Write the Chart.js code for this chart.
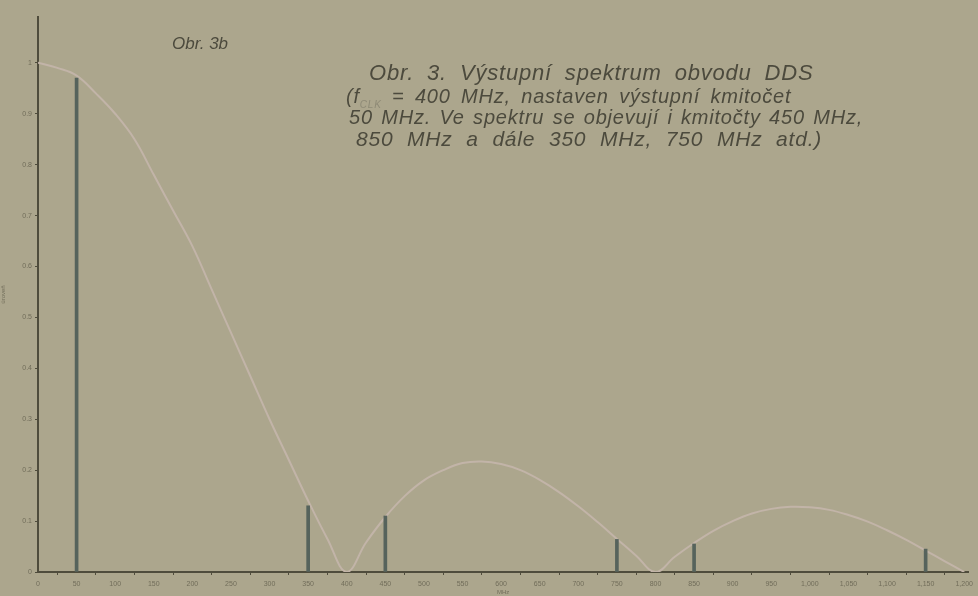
<!DOCTYPE html>
<html>
<head>
<meta charset="utf-8">
<script src="https://cdn.jsdelivr.net/npm/chart.js@4.4.1/dist/chart.umd.min.js"></script>
<style>
  html, body { margin: 0; padding: 0; background: #aca68d; }
  #wrap { position: relative; width: 978px; height: 596px; overflow: hidden; }
  .note { position: absolute; font-family: "Liberation Sans", Arial, sans-serif; font-style: italic;
          font-size: 20px; letter-spacing: 0.8px; color: #4c4a3d; white-space: nowrap; line-height: 1; }
  .note.small { font-size: 17px; letter-spacing: 0; }
  .note sub { font-size: 10px; color: #8e8a76; }
</style>
</head>
<body>
<div id="wrap">
  <canvas id="spektrum" width="978" height="596"></canvas>
  <div class="note small" style="left:172px; top:35px;">Obr. 3b</div>
  <div class="note" style="left:369px; top:62px; font-size:22px; word-spacing:6px;">Obr. 3. Výstupní spektrum obvodu DDS</div>
  <div class="note" style="left:346px; top:86px; word-spacing:4px;">(f<sub>CLK</sub> = 400 MHz, nastaven výstupní kmitočet</div>
  <div class="note" style="left:349px; top:107px; word-spacing:2px;">50 MHz. Ve spektru se objevují i kmitočty 450 MHz,</div>
  <div class="note" style="left:356px; top:128px; font-size:21px; word-spacing:7px;">850 MHz a dále 350 MHz, 750 MHz atd.)</div>
</div>
<script>
// Obálka sin(x)/x (krok 25 MHz)
const envFreq = [0, 25, 50, 75, 100, 125, 150, 175, 200, 225, 250, 275, 300, 325, 350, 375,
  400, 425, 450, 475, 500, 525, 550, 575, 600, 625, 650, 675, 700, 725, 750, 775,
  800, 825, 850, 875, 900, 925, 950, 975, 1000, 1025, 1050, 1075, 1100, 1125, 1150, 1175, 1200];
const envLevel = [1.0, 0.99, 0.975, 0.94, 0.90, 0.85, 0.78, 0.71, 0.64, 0.555, 0.47, 0.385, 0.30, 0.22, 0.14, 0.065,
  0.0, 0.058, 0.108, 0.149, 0.18, 0.20, 0.214, 0.217, 0.212, 0.20, 0.181, 0.157, 0.129, 0.098, 0.065, 0.032,
  0.0, 0.03, 0.057, 0.081, 0.10, 0.115, 0.124, 0.128, 0.127, 0.122, 0.112, 0.099, 0.082, 0.063, 0.042, 0.021, 0.0];

// Spektrální čáry
const lineFreq = [50, 350, 450, 750, 850, 1150];
const lineLevel = [0.97, 0.13, 0.11, 0.064, 0.055, 0.045];

const axisColor = '#4f4c3c';
const tickColor = '#716d5a';

function initSpektrum() {
  const ctx = document.getElementById('spektrum');
  if (!ctx) return;

  new Chart(ctx, {
    data: {
      datasets: [{
        type: 'bar',
        label: 'čáry',
        data: lineFreq.map((f, i) => ({ x: f, y: lineLevel[i] })),
        backgroundColor: '#56635c',
        barThickness: 3,
        order: 1
      }, {
        type: 'line',
        label: 'obálka',
        data: envFreq.map((f, i) => ({ x: f, y: envLevel[i] })),
        borderColor: '#c2b4a8',
        borderWidth: 2,
        pointRadius: 0,
        tension: 0.4,
        fill: false,
        order: 2
      }]
    },
    options: {
      responsive: false,
      animation: false,
      layout: { padding: { left: 0, top: 17, right: 3, bottom: 0 } },
      plugins: {
        legend: { display: false },
        tooltip: { enabled: false }
      },
      scales: {
        x: {
          type: 'linear',
          min: 0,
          max: 1205,
          offset: false,
          afterFit: (s) => { s.height = 24; },
          border: { color: axisColor, width: 2 },
          grid: { display: true, drawOnChartArea: false, tickLength: 3, color: axisColor },
          ticks: {
            stepSize: 50,
            includeBounds: false,
            maxRotation: 0,
            autoSkip: false,
            color: tickColor,
            padding: 5,
            font: { family: 'Liberation Sans', size: 7 }
          },
          title: {
            display: true,
            text: 'MHz',
            color: tickColor,
            padding: 0,
            font: { family: 'Liberation Sans', size: 6 }
          }
        },
        y: {
          min: 0,
          max: 1.09,
          afterFit: (s) => { s.width = 38; },
          border: { color: axisColor, width: 2 },
          grid: { display: true, drawOnChartArea: false, tickLength: 3, color: axisColor },
          ticks: {
            stepSize: 0.1,
            includeBounds: false,
            color: tickColor,
            padding: 3,
            font: { family: 'Liberation Sans', size: 7 },
            callback: (v) => Number(v.toFixed(1)).toString()
          },
          title: {
            display: true,
            text: 'úroveň',
            color: tickColor,
            padding: 0,
            font: { family: 'Liberation Sans', size: 6 }
          }
        }
      }
    }
  });
}

document.addEventListener('DOMContentLoaded', () => {
  initSpektrum();
});
</script>
</body>
</html>
